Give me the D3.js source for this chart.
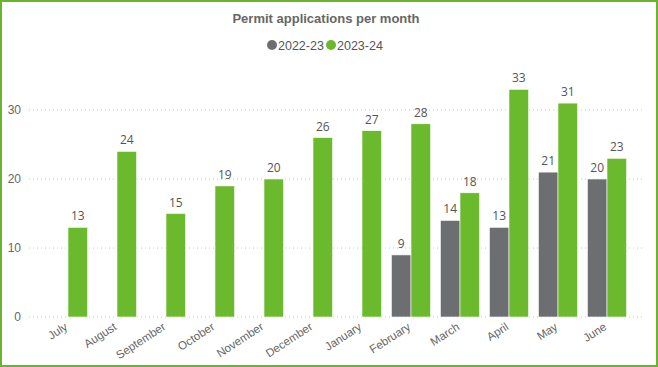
<!DOCTYPE html>
<html><head><meta charset="utf-8">
<script src="https://cdn.jsdelivr.net/npm/d3@7"></script>
<style>body{margin:0;background:#fff;}svg{display:block;font-family:"Segoe UI","Open Sans",Arial,sans-serif;}</style>
</head><body><svg id="c" width="658" height="367"></svg>
<script>
const months = ["July","August","September","October","November","December","January","February","March","April","May","June"];
const series = ["2022-23","2023-24"];
const values2223 = [null,null,null,null,null,null,null,9,14,13,21,20];
const values2324 = [13,24,15,19,20,26,27,28,18,33,31,23];
const yTicks = [0,10,20,30];
const colors = ["#6d6e72","#6bb92d"];

const svg = d3.select("#c");
svg.append("rect").attr("x",1).attr("y",1).attr("width",656).attr("height",365)
  .attr("fill","#fff").attr("stroke","#6ab42f").attr("stroke-width",2);

const y = d3.scaleLinear().domain([0,30]).range([317,110]);
const x = d3.scaleBand().domain(months).range([43.5,631.5]).paddingInner(0.2).paddingOuter(0.1);
const xs = d3.scaleBand().domain(series).range([0,x.bandwidth()]);

// gridlines
svg.append("g").selectAll("line").data(yTicks).join("line")
  .attr("x1",29).attr("x2",643).attr("y1",d=>y(d)).attr("y2",d=>y(d))
  .attr("stroke","#c8c8c8").attr("stroke-dasharray","1,3");

// y axis
const yAxis = d3.axisLeft(y).tickValues(yTicks).tickSize(0).tickPadding(0);
const ya = svg.append("g").attr("transform","translate(21,0)").call(yAxis);
ya.select(".domain").remove();
ya.selectAll("text").attr("fill","#666").style("font-size","12px");

// x axis
const xAxis = d3.axisBottom(x).tickSize(0).tickPadding(0);
const xa = svg.append("g").attr("transform","translate(0,322)").call(xAxis);
xa.select(".domain").remove();
xa.selectAll("text").attr("fill","#666").style("font-size","11.5px")
  .attr("text-anchor","end").attr("dy","0.7em")
  .attr("transform","translate(-4,0) rotate(-33)");

// bars
const data = [values2223, values2324];
series.forEach((s,i)=>{
  const g = svg.append("g");
  const rows = months.map((m,j)=>({m, v:data[i][j]})).filter(d=>d.v!=null);
  g.selectAll("rect").data(rows).join("rect")
    .attr("x",d=>x(d.m)+xs(s)).attr("width",xs.bandwidth())
    .attr("y",d=>y(d.v)).attr("height",d=>y(0)-y(d.v))
    .attr("fill",colors[i]).attr("stroke","#fff").attr("stroke-width",0.6);
  g.selectAll("text").data(rows).join("text")
    .attr("x",d=>x(d.m)+xs(s)+xs.bandwidth()/2).attr("y",d=>y(d.v)-7)
    .attr("text-anchor","middle").attr("fill","#555").style("font-size","12px")
    .text(d=>d.v);
});

// title
svg.append("text").attr("x",326).attr("y",23).attr("text-anchor","middle")
  .attr("fill","#666").style("font-family","Arial,'Liberation Sans',sans-serif")
  .style("font-size","13px").style("font-weight","bold")
  .text("Permit applications per month");

// legend
const lg = svg.append("g");
const lx = [272,331];
series.forEach((s,i)=>{
  lg.append("circle").attr("cx",lx[i]).attr("cy",45).attr("r",5).attr("fill",colors[i]);
  lg.append("text").attr("x",lx[i]+6).attr("y",49.5).attr("fill","#555")
    .style("font-family","Arial,'Liberation Sans',sans-serif").style("font-size","12.5px").text(s);
});
</script></body></html>
